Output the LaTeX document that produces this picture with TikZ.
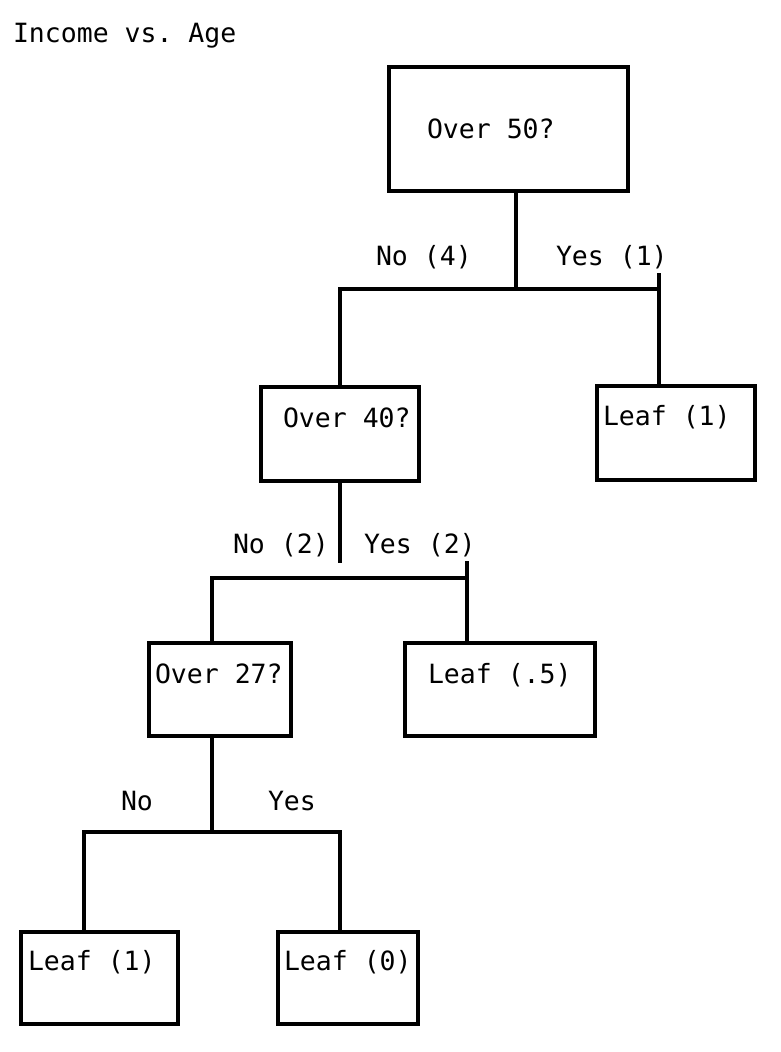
\documentclass[tikz,border=0pt]{standalone}
\usepackage{fontspec}
\setmonofont{DejaVu Sans Mono}
\begin{document}
\begin{tikzpicture}[x=1pt,y=-1pt,
  box/.style={draw=black, line width=4pt, rectangle, inner sep=0pt},
  lbl/.style={font=\ttfamily\fontsize{26.5}{30}\selectfont, anchor=base west, inner sep=0pt, outer sep=0pt},
  conn/.style={draw=black, line width=4pt, line join=miter, line cap=butt}]
\useasboundingbox (0,0) rectangle (780,1052);
\fill[white] (0,0) rectangle (780,1052);

% title
\node[lbl] (title) at (13,42) {Income vs. Age};

% boxes
\node[box, minimum width=239pt, minimum height=124pt] (n50) at (508.5,129) {};
\node[box, minimum width=158pt, minimum height=94pt] (n40) at (340,434) {};
\node[box, minimum width=158pt, minimum height=94pt] (l1) at (676,433) {};
\node[box, minimum width=142pt, minimum height=93pt] (n27) at (220,689.5) {};
\node[box, minimum width=190pt, minimum height=93pt] (l5) at (500,689.5) {};
\node[box, minimum width=157pt, minimum height=92pt] (lb1) at (99.5,978) {};
\node[box, minimum width=140pt, minimum height=92pt] (lb0) at (348,978) {};

% box texts
\node[lbl] (t50) at (427,138) {Over 50?};
\node[lbl] (t40) at (283,427) {Over 40?};
\node[lbl] (tl1) at (603,425) {Leaf (1)};
\node[lbl] (t27) at (155,683) {Over 27?};
\node[lbl] (tl5) at (428,683) {Leaf (.5)};
\node[lbl] (tlb1) at (28,970) {Leaf (1)};
\node[lbl] (tlb0) at (284,970) {Leaf (0)};

% branch labels
\node[lbl] (no4) at (376,265) {No (4)};
\node[lbl] (yes1) at (556,265) {Yes (1)};
\node[lbl] (no2) at (233,553) {No (2)};
\node[lbl] (yes2) at (364,553) {Yes (2)};
\node[lbl] (no3) at (121,810) {No};
\node[lbl] (yes3) at (268,810) {Yes};

% level 1 connectors
\coordinate (j1) at (516,289);
\coordinate (t1) at (659,273);
\draw[conn] (n50.south -| j1) -- (j1);
\draw[conn] (n40.north) |- (t1 |- j1);
\draw[conn] (t1) -- (l1.north -| t1);

% level 2 connectors
\coordinate (s2) at (340,563);
\coordinate (a2) at (212,578);
\coordinate (t2) at (467,561);
\draw[conn] (n40.south) -- (s2);
\draw[conn] (n27.north -| a2) -- (a2) -- (t2 |- a2);
\draw[conn] (t2) -- (l5.north -| t2);

% level 3 connectors
\coordinate (j3) at (212,832);
\coordinate (a3) at (84,832);
\coordinate (b3) at (340,832);
\draw[conn] (n27.south -| j3) -- (j3);
\draw[conn] (lb1.north -| a3) -- (a3) -- (b3) -- (lb0.north -| b3);
\end{tikzpicture}
\end{document}
